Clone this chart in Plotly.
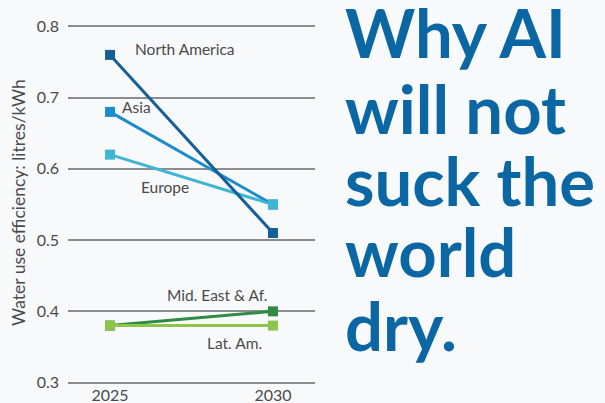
import plotly.graph_objects as go

years = [2025, 2030]
regions = ["North America", "Asia", "Europe", "Mid. East & Af.", "Lat. Am."]
north_america = [0.76, 0.51]
asia = [0.68, 0.55]
europe = [0.62, 0.55]
mid_east_af = [0.38, 0.40]
lat_am = [0.38, 0.38]
y_ticks = [0.3, 0.4, 0.5, 0.6, 0.7, 0.8]
title_lines = ["Why AI", "will not", "suck the", "world", "dry."]

series = [
    ("Asia", asia, "#1b8ccb"),
    ("Europe", europe, "#3fb5d3"),
    ("North America", north_america, "#155f98"),
    ("Mid. East & Af.", mid_east_af, "#2e8a44"),
    ("Lat. Am.", lat_am, "#8dc54b"),
]

fig = go.Figure()
for nm, vals, col in series:
    fig.add_trace(go.Scatter(
        x=years, y=vals, mode="lines+markers", name=nm,
        line=dict(color=col, width=3),
        marker=dict(symbol="square", size=10, color=col),
        showlegend=False, cliponaxis=False,
    ))

label_font = dict(family="Lato", size=15.5, color="#4a4a4a")
labels = [
    ("North America", 2025.70, 0.768),
    ("Asia", 2025.30, 0.687),
    ("Europe", 2025.89, 0.575),
    ("Mid. East & Af.", 2026.69, 0.423),
    ("Lat. Am.", 2027.91, 0.356),
]
L, R, T, B = 68, 290, 25, 19
W, H = 605, 403
pw, ph = W - L - R, H - T - B

annotations = []
for txt, x, y in labels:
    annotations.append(dict(text=txt, x=x, y=y, xref="x", yref="y",
                            xanchor="left", yanchor="middle", showarrow=False,
                            font=label_font))

annotations.append(dict(text="Water use efficiency: litres/kWh", textangle=-90,
                        x=(19 - L) / pw, y=(H - B - 203) / ph,
                        xref="paper", yref="paper", showarrow=False,
                        xanchor="center", yanchor="middle",
                        font=dict(family="Lato", size=17.5, color="#4a4a4a")))

title_centers = [32, 108, 180, 251, 325]
for line, cy in zip(title_lines, title_centers):
    annotations.append(dict(text="<b>" + line + "</b>", x=(343 - L) / pw,
                            y=(H - B - cy) / ph, xref="paper", yref="paper",
                            xanchor="left", yanchor="middle", showarrow=False,
                            font=dict(family="Lato", size=67, color="#0b67a4")))

fig.update_layout(
    width=W, height=H,
    margin=dict(l=L, r=R, t=T, b=B, autoexpand=False),
    paper_bgcolor="#f8f9fb", plot_bgcolor="#f8f9fb",
    annotations=annotations,
    xaxis=dict(range=[2023.71, 2031.29], tickvals=years, ticktext=[str(y) for y in years],
               showgrid=False, zeroline=False, showline=False, automargin=False,
               tickfont=dict(family="Lato", size=16, color="#4a4a4a"), ticklen=0),
    yaxis=dict(range=[0.298, 0.802], tickvals=y_ticks, tickformat=".1f",
               showgrid=True, gridcolor="#8c8c8c", gridwidth=2, zeroline=False,
               showline=False, ticks="", ticklabelstandoff=8, automargin=False,
               tickfont=dict(family="Lato", size=16, color="#4a4a4a")),
)

fig.write_html("out.html")
